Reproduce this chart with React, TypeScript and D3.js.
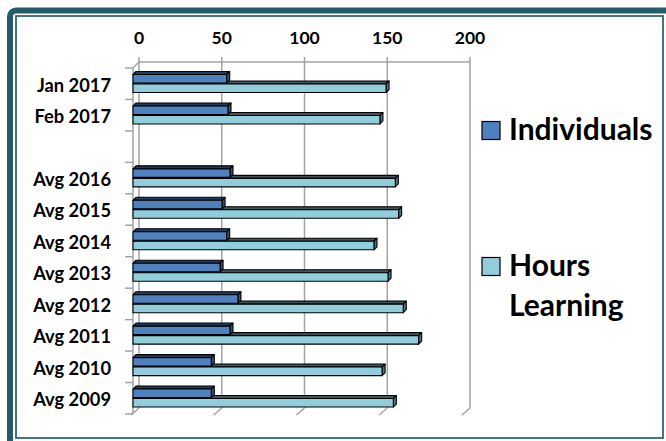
import * as d3 from 'd3';
import React from 'react';

const categories = [
  'Jan 2017',
  'Feb 2017',
  '',
  'Avg 2016',
  'Avg 2015',
  'Avg 2014',
  'Avg 2013',
  'Avg 2012',
  'Avg 2011',
  'Avg 2010',
  'Avg 2009',
];
const individuals = [56.6, 57.4, null, 58.6, 53.8, 56.6, 52.6, 63.4, 58.6, 47.3, 47.3];
const hoursLearning = [152.9, 149.2, null, 158.5, 160.5, 145.6, 154.1, 163.3, 172.6, 150.5, 157.3];
const valueTicks = [0, 50, 100, 150, 200];
const seriesNames = ['Individuals', 'Hours Learning'];

const W = 666;
const H = 441;
const WALL = 6; // depth offset of the back wall
const BAR = 3; // depth of a bar
const FONT = "Lato, 'DejaVu Sans', sans-serif";

const colors = {
  Individuals: { front: '#4f81bd', top: '#223c5e', side: '#2f5486' },
  'Hours Learning': { front: '#92cddc', top: '#3f565c', side: '#4f7680' },
};

export default function App() {
  // back wall scale; the front plane is shifted left/down by WALL
  const x = d3.scaleLinear().domain([0, 200]).range([139, 470]);
  const xf = (v: number) => x(v) - WALL;
  const keys = categories.map((c, i) => c || `gap${i}`);
  const y = d3.scaleBand<string>().domain(keys).range([68, 414]);
  const sub = d3.scaleBand<string>().domain(seriesNames).range([6.5, 24.5]).paddingInner(0.1);

  const top = 62;
  const bottom = 408;

  const bar = (key: string, v: number | null, cat: string, name: string) => {
    if (v == null) return null;
    const c = colors[name as keyof typeof colors];
    const x0 = xf(0);
    const x1 = xf(v);
    const y0 = (y(cat) ?? 0) + (sub(name) ?? 0);
    const y1 = y0 + sub.bandwidth();
    return (
      <g key={key} stroke="#000" strokeWidth={1.1} strokeLinejoin="round">
        <polygon
          points={`${x0},${y0} ${x0 + BAR},${y0 - BAR} ${x1 + BAR},${y0 - BAR} ${x1},${y0}`}
          fill={c.top}
        />
        <polygon
          points={`${x1},${y0} ${x1 + BAR},${y0 - BAR} ${x1 + BAR},${y1 - BAR} ${x1},${y1}`}
          fill={c.side}
        />
        <rect x={x0} y={y0} width={x1 - x0} height={y1 - y0} fill={c.front} />
      </g>
    );
  };

  return (
    <div style={{ position: 'fixed', left: 0, top: 0 }}>
      <svg width={W} height={H} viewBox={`0 0 ${W} ${H}`} style={{ display: 'block', background: '#fff' }}>
        {/* frame */}
        <rect x={10} y={10.5} width={680} height={460} rx={6} fill="none" stroke="#245c6b" strokeWidth={6} />
        <rect x={16} y={16} width={647} height={422} fill="none" stroke="#2e6677" strokeWidth={1.8} />

        {/* walls and gridlines */}
        <g stroke="#a3a3a3" strokeWidth={1.5} fill="none">
          <line x1={x(0)} x2={x(200)} y1={top} y2={top} />
          {valueTicks.map((t) => (
            <g key={t}>
              <line x1={x(t)} x2={x(t)} y1={top - 5} y2={bottom} />
              <line x1={x(t)} x2={x(t) - 8} y1={bottom} y2={bottom + 7} />
            </g>
          ))}
          <line x1={xf(0)} x2={xf(0)} y1={top + WALL} y2={bottom + WALL} />
          <line x1={xf(0)} x2={x(0)} y1={top + WALL} y2={top} />
          {keys.map((k) => (
            <line key={k} x1={xf(0) - 8} x2={xf(0)} y1={y(k)} y2={y(k)} />
          ))}
          <line x1={xf(0) - 8} x2={xf(0)} y1={414} y2={414} />
        </g>

        {/* bars: lower series first so the upper one covers its top face */}
        {keys.map((k, i) => (
          <g key={k}>
            {bar(`h${i}`, hoursLearning[i], k, 'Hours Learning')}
            {bar(`i${i}`, individuals[i], k, 'Individuals')}
          </g>
        ))}

        {/* value tick labels */}
        <g fontFamily={FONT} fontWeight="bold" fontSize={17.5} textAnchor="middle" fill="#000">
          {valueTicks.map((t) => (
            <text key={t} x={x(t)} y={43.5}>
              {t}
            </text>
          ))}
        </g>

        {/* category labels */}
        <g fontFamily={FONT} fontWeight="bold" fontSize={18.3} textAnchor="end" fill="#000">
          {categories.map((c, i) => (
            <text key={i} x={111} y={(y(keys[i]) ?? 0) + y.bandwidth() / 2 + 7.8}>
              {c}
            </text>
          ))}
        </g>

        {/* legend */}
        <g fontFamily={FONT} fontWeight="bold" fontSize={30} fill="#000">
          <rect x={482} y={121.5} width={18} height={18} fill={colors.Individuals.front} stroke="#000" strokeWidth={1.2} />
          <text x={509} y={140}>Individuals</text>
          <rect x={482} y={257.5} width={18} height={18} fill={colors['Hours Learning'].front} stroke="#000" strokeWidth={1.2} />
          <text x={509} y={275.5}>Hours</text>
          <text x={509} y={316}>Learning</text>
        </g>
      </svg>
    </div>
  );
}
